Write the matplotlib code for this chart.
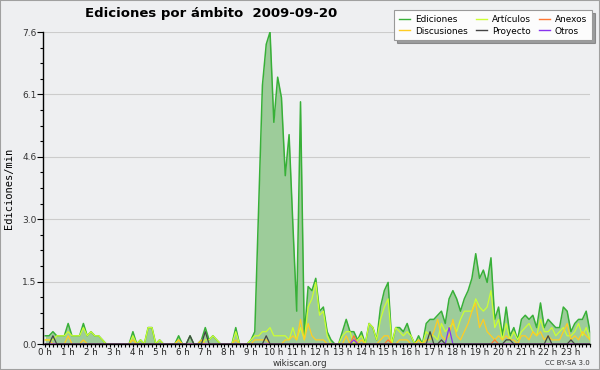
import numpy as np
import matplotlib.pyplot as plt
from matplotlib.patches import Rectangle

# edits per minute, one value every 10 minutes (6 per hour), 0h..23h50
ediciones = [
    0.2, 0.2, 0.3, 0.2, 0.2, 0.2,   # 0h
    0.5, 0.2, 0.2, 0.2, 0.5, 0.2,   # 1h
    0.3, 0.2, 0.2, 0.1, 0.0, 0.0,   # 2h
    0.0, 0.0, 0.0, 0.0, 0.0, 0.3,   # 3h
    0.0, 0.1, 0.0, 0.4, 0.4, 0.0,   # 4h
    0.1, 0.0, 0.0, 0.0, 0.0, 0.2,   # 5h
    0.0, 0.0, 0.2, 0.0, 0.0, 0.1,   # 6h
    0.4, 0.1, 0.2, 0.1, 0.0, 0.0,   # 7h
    0.0, 0.0, 0.4, 0.0, 0.0, 0.0,   # 8h
    0.1, 0.3, 3.3, 6.3, 7.3, 7.6,   # 9h
    5.4, 6.5, 6.0, 4.1, 5.1, 2.9,   # 10h
    0.8, 5.9, 0.2, 1.4, 1.3, 1.6,   # 11h
    0.8, 0.9, 0.3, 0.1, 0.0, 0.0,   # 12h
    0.3, 0.6, 0.3, 0.3, 0.1, 0.3,   # 13h
    0.0, 0.5, 0.4, 0.1, 0.9, 1.3,   # 14h
    1.5, 0.0, 0.4, 0.4, 0.3, 0.5,   # 15h
    0.2, 0.0, 0.2, 0.0, 0.5, 0.6,   # 16h
    0.6, 0.7, 0.8, 0.5, 1.1, 1.3,   # 17h
    1.1, 0.8, 1.1, 1.3, 1.6, 2.2,   # 18h
    1.6, 1.8, 1.5, 2.1, 0.6, 0.9,   # 19h
    0.2, 0.9, 0.2, 0.4, 0.1, 0.6,   # 20h
    0.7, 0.6, 0.7, 0.4, 1.0, 0.4,   # 21h
    0.6, 0.5, 0.4, 0.4, 0.9, 0.8,   # 22h
    0.3, 0.5, 0.6, 0.6, 0.8, 0.3,   # 23h
]
articulos = [
    0.1, 0.1, 0.1, 0.2, 0.2, 0.2,
    0.3, 0.2, 0.2, 0.2, 0.4, 0.2,
    0.3, 0.2, 0.2, 0.1, 0.0, 0.0,
    0.0, 0.0, 0.0, 0.0, 0.0, 0.2,
    0.0, 0.1, 0.0, 0.4, 0.4, 0.0,
    0.1, 0.0, 0.0, 0.0, 0.0, 0.1,
    0.0, 0.0, 0.0, 0.0, 0.0, 0.0,
    0.1, 0.1, 0.2, 0.1, 0.0, 0.0,
    0.0, 0.0, 0.3, 0.0, 0.0, 0.0,
    0.1, 0.2, 0.2, 0.3, 0.3, 0.4,
    0.2, 0.2, 0.2, 0.2, 0.1, 0.4,
    0.1, 0.4, 0.1, 0.9, 1.1, 1.5,
    0.7, 0.8, 0.2, 0.0, 0.0, 0.0,
    0.2, 0.3, 0.3, 0.0, 0.1, 0.2,
    0.0, 0.5, 0.4, 0.1, 0.6, 0.9,
    1.1, 0.0, 0.4, 0.3, 0.2, 0.3,
    0.2, 0.0, 0.1, 0.0, 0.3, 0.2,
    0.2, 0.1, 0.5, 0.3, 0.4, 0.5,
    0.3, 0.6, 0.8, 0.8, 0.8, 1.1,
    0.9, 0.8, 0.9, 1.3, 0.4, 0.6,
    0.1, 0.5, 0.1, 0.3, 0.1, 0.3,
    0.4, 0.5, 0.3, 0.2, 0.6, 0.3,
    0.3, 0.4, 0.2, 0.3, 0.4, 0.2,
    0.2, 0.3, 0.5, 0.2, 0.4, 0.1,
]
discusiones = [
    0.1, 0.1, 0.0, 0.0, 0.0, 0.0,
    0.2, 0.0, 0.0, 0.0, 0.1, 0.0,
    0.0, 0.0, 0.0, 0.0, 0.0, 0.0,
    0.0, 0.0, 0.0, 0.0, 0.0, 0.1,
    0.0, 0.0, 0.0, 0.0, 0.0, 0.0,
    0.0, 0.0, 0.0, 0.0, 0.0, 0.1,
    0.0, 0.0, 0.0, 0.0, 0.0, 0.1,
    0.0, 0.0, 0.0, 0.0, 0.0, 0.0,
    0.0, 0.0, 0.1, 0.0, 0.0, 0.0,
    0.0, 0.1, 0.1, 0.1, 0.1, 0.0,
    0.0, 0.0, 0.0, 0.1, 0.1, 0.2,
    0.1, 0.6, 0.1, 0.5, 0.2, 0.1,
    0.1, 0.1, 0.0, 0.0, 0.0, 0.0,
    0.0, 0.2, 0.0, 0.0, 0.0, 0.1,
    0.0, 0.0, 0.0, 0.0, 0.1, 0.2,
    0.2, 0.0, 0.0, 0.1, 0.1, 0.1,
    0.0, 0.0, 0.1, 0.0, 0.1, 0.1,
    0.3, 0.6, 0.2, 0.1, 0.2, 0.6,
    0.2, 0.1, 0.3, 0.5, 0.8, 1.0,
    0.4, 0.6, 0.3, 0.2, 0.1, 0.2,
    0.1, 0.2, 0.1, 0.1, 0.0, 0.2,
    0.2, 0.1, 0.3, 0.2, 0.3, 0.1,
    0.2, 0.1, 0.1, 0.1, 0.3, 0.5,
    0.1, 0.2, 0.1, 0.3, 0.2, 0.1,
]
# sparse series: {slot index: value}
proyecto_pts = {2: 0.2, 38: 0.2, 42: 0.3, 58: 0.2, 101: 0.3, 104: 0.1,
                121: 0.1, 122: 0.1, 132: 0.2, 138: 0.1}
anexos_pts = {81: 0.2, 90: 0.1, 118: 0.1}
otros_pts = {81: 0.1, 106: 0.4}

n = len(ediciones)
proyecto = np.zeros(n)
anexos = np.zeros(n)
otros = np.zeros(n)
for k, v in proyecto_pts.items():
    proyecto[k] = v
for k, v in anexos_pts.items():
    anexos[k] = v
for k, v in otros_pts.items():
    otros[k] = v

t = np.arange(n) / 6.0  # hours
ymax = 7.6

bg = '#eeeff1'
fig = plt.figure(figsize=(6, 3.7), dpi=100, facecolor=bg)
fig.patches.append(Rectangle((0, 0), 1, 1, transform=fig.transFigure,
                             fill=False, edgecolor='#a0a0a0', linewidth=1.5))

ax = fig.add_axes([43.3 / 600, 1 - 344 / 370, (590 - 43.3) / 600, (344 - 32) / 370])
ax.set_facecolor(bg)
ax.set_xlim(-0.0875, 23.83)
ax.set_ylim(0, ymax)

ax.fill_between(t, ediciones, color='#9dcc9a', linewidth=0, zorder=2)
h_ed, = ax.plot(t, ediciones, color='#38b038', lw=1.1, zorder=3, label='Ediciones')
h_art, = ax.plot(t, articulos, color='#ccff33', lw=0.9, zorder=4, label='Artículos')
h_disc, = ax.plot(t, discusiones, color='#ffcc22', lw=0.9, zorder=4, label='Discusiones')
h_anx, = ax.plot(t, anexos, color='#ff7733', lw=0.9, zorder=5, label='Anexos')
h_otr, = ax.plot(t, otros, color='#8833ee', lw=0.9, zorder=5, label='Otros')
h_pro, = ax.plot(t, proyecto, color='#444444', lw=0.9, zorder=6, label='Proyecto')

# axes styling
for s in ['top', 'right']:
    ax.spines[s].set_visible(False)
for s in ['left', 'bottom']:
    ax.spines[s].set_color('black')
    ax.spines[s].set_linewidth(1.0)
    ax.spines[s].set_zorder(10)

yt = [ymax * k / 5 for k in range(6)]
ax.set_yticks(yt)
ax.set_yticklabels(['%.1f' % v for v in yt], fontsize=6.5, color='#333333')
ax.set_yticks([ymax * k / 20 for k in range(21)], minor=True)
ax.yaxis.grid(True, which='major', color='#cccccc', linewidth=0.8, zorder=0)
ax.set_axisbelow(True)
ax.tick_params(axis='y', which='major', length=4, width=0.8, pad=1)
ax.tick_params(axis='y', which='minor', length=2.5, width=0.8)

ax.set_xticks(range(24))
ax.set_xticklabels(['%d h' % h for h in range(24)], fontsize=6.3, color='#222222')
ax.set_xticks(np.arange(0, 24, 1 / 6.0), minor=True)
ax.tick_params(axis='x', which='major', length=2.5, width=0.8, pad=0.5)
ax.tick_params(axis='x', which='minor', length=2.5, width=0.8)

ax.set_ylabel('Ediciones/min', family='DejaVu Sans Mono', fontsize=7.5, labelpad=6)

fig.text(85 / 600, 1 - 13 / 370, 'Ediciones por ámbito  2009-09-20',
         fontsize=9.5, fontweight='bold', ha='left', va='center')

handles = [h_ed, h_disc, h_art, h_pro, h_anx, h_otr]
leg = ax.legend(handles=handles, labels=[h.get_label() for h in handles],
                ncol=3, loc='upper right', bbox_to_anchor=(592 / 600, 1 - 10 / 370),
                bbox_transform=fig.transFigure, fontsize=6.4, frameon=True,
                fancybox=False, shadow=True, handlelength=1.2, handletextpad=0.6,
                columnspacing=0.9, labelspacing=0.3, borderpad=0.55, borderaxespad=0)
leg.get_frame().set_facecolor('#fcfcfc')
leg.get_frame().set_edgecolor('#999999')
leg.get_frame().set_linewidth(0.8)
for line in leg.get_lines():
    line.set_linewidth(1.0)

fig.text(0.5, 1 - 363 / 370, 'wikiscan.org', fontsize=6.3, ha='center', va='center', color='#333333')
fig.text(590 / 600, 1 - 363 / 370, 'CC BY-SA 3.0', fontsize=5, ha='right', va='center', color='#333333')

fig.savefig('out.png', dpi=100, facecolor=bg)
